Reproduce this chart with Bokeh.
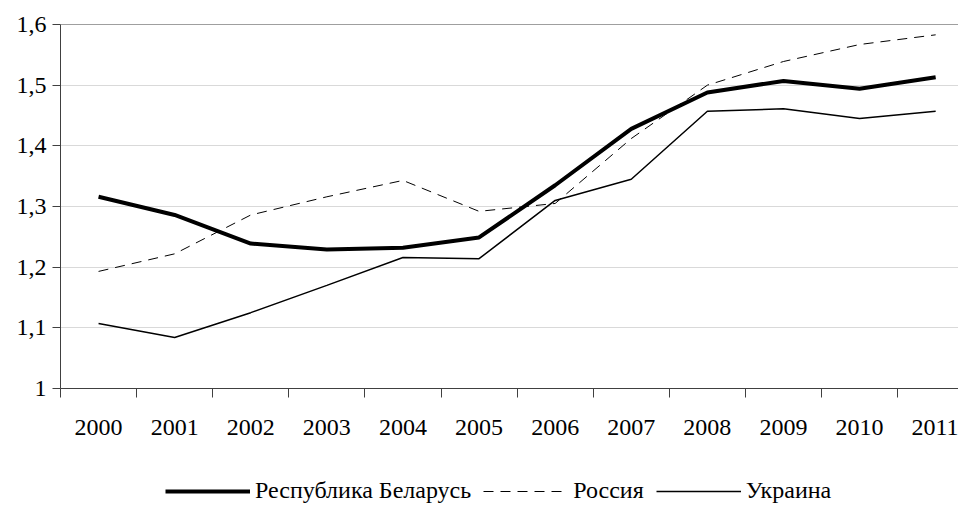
from bokeh.plotting import figure
from bokeh.layouts import column
from bokeh.models import FixedTicker, CustomJSTickFormatter, Legend, LegendItem, Span, Range1d
from bokeh.embed import file_html
from bokeh.resources import INLINE

years = [2000, 2001, 2002, 2003, 2004, 2005, 2006, 2007, 2008, 2009, 2010, 2011]
belarus = [1.316, 1.286, 1.239, 1.229, 1.232, 1.249, 1.335, 1.428, 1.488, 1.507, 1.494, 1.513]
russia = [1.193, 1.222, 1.286, 1.316, 1.343, 1.292, 1.305, 1.412, 1.500, 1.539, 1.567, 1.583]
ukraine = [1.107, 1.084, 1.125, 1.170, 1.216, 1.214, 1.310, 1.345, 1.457, 1.461, 1.445, 1.457]
y_ticks = [1.0, 1.1, 1.2, 1.3, 1.4, 1.5, 1.6]
series_names = ["Республика Беларусь", "Россия", "Украина"]

FONT = "Liberation Serif"
FS = "24px"

styles = [dict(line_color="black", line_width=4),
          dict(line_color="black", line_width=1, line_dash="10 7"),
          dict(line_color="black", line_width=1.5)]

p = figure(width=958, height=466,
           output_backend="svg", toolbar_location=None,
           x_range=Range1d(1999.5, 2011.3), y_range=Range1d(1.0, 1.6),
           min_border_left=60, min_border_top=24, min_border_right=0, min_border_bottom=78)
p.outline_line_color = None
p.background_fill_color = "white"
p.border_fill_color = "white"

for vals, st in zip([belarus, russia, ukraine], styles):
    p.line(years, vals, **st)

# x axis
p.xaxis.ticker = FixedTicker(ticks=years, minor_ticks=[y - 0.5 for y in years])
p.xaxis.major_tick_out = 0
p.xaxis.major_tick_in = 0
p.xaxis.minor_tick_out = 9
p.xaxis.minor_tick_in = 0
p.xaxis.major_label_standoff = 22
p.xaxis.axis_line_color = "#404040"
p.xaxis.minor_tick_line_color = "#404040"
p.xaxis.major_label_text_font = FONT
p.xaxis.major_label_text_font_size = FS
p.xaxis.major_label_text_color = "black"
p.xgrid.grid_line_color = None

# y axis
p.yaxis.ticker = FixedTicker(ticks=y_ticks)
p.yaxis.formatter = CustomJSTickFormatter(code="return (Math.round(tick*10)/10).toString().replace('.', ',');")
p.yaxis.major_tick_out = 8
p.yaxis.major_tick_in = 0
p.yaxis.minor_tick_line_color = None
p.yaxis.major_label_standoff = 6
p.yaxis.axis_line_color = "#404040"
p.yaxis.major_tick_line_color = "#404040"
p.yaxis.major_label_text_font = FONT
p.yaxis.major_label_text_font_size = FS
p.yaxis.major_label_text_color = "black"
p.ygrid.grid_line_color = "#d9d9d9"
p.ygrid.grid_line_width = 1

p.add_layout(Span(location=1.6, dimension="width", line_color="#404040", line_width=1))

# legend strip (series drawn out of view so only the legend shows)
lg = figure(width=958, height=45, output_backend="svg", toolbar_location=None,
            x_axis_type=None, y_axis_type=None, min_border=0,
            x_range=Range1d(0, 1), y_range=Range1d(0, 1))
lg.outline_line_color = None
lg.xgrid.grid_line_color = None
lg.ygrid.grid_line_color = None
items = []
for name, vals, st in zip(series_names, [belarus, russia, ukraine], styles):
    r = lg.line(years, vals, **st)
    items.append(LegendItem(label=name, renderers=[r]))

legend = Legend(items=items, orientation="horizontal", location=(105, 7))
legend.label_text_font = FONT
legend.label_text_font_size = FS
legend.label_text_color = "black"
legend.glyph_width = 85
legend.label_standoff = 5
legend.spacing = 12
legend.border_line_color = None
legend.background_fill_alpha = 0
legend.margin = 0
legend.padding = 0
legend.label_height = 24
legend.glyph_height = 24
lg.add_layout(legend, "center")

layout = column(p, lg, spacing=0)
open("out.html", "w").write(file_html(layout, INLINE))
